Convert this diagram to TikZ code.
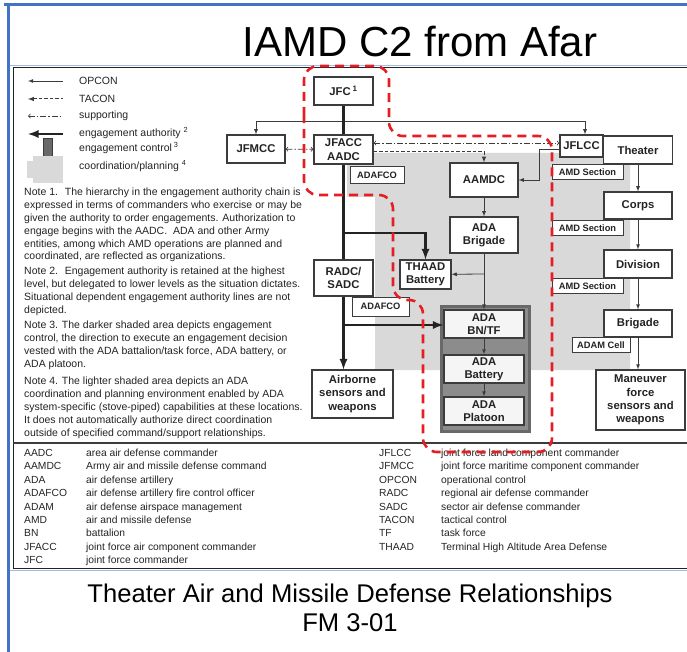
\documentclass[tikz,border=0pt]{standalone}
\usepackage{fontspec}
\setmainfont{Liberation Sans}
\usetikzlibrary{arrows}

\definecolor{slideblue}{RGB}{68,114,196}
\definecolor{paleblue}{RGB}{165,188,226}
\definecolor{lightshade}{RGB}{217,217,217}
\definecolor{darkedge}{RGB}{105,105,105}
\definecolor{darkfill}{RGB}{140,140,140}
\definecolor{boxline}{RGB}{60,60,60}
\definecolor{ink}{RGB}{35,35,35}
\definecolor{penred}{RGB}{228,30,36}

\begin{document}
\begin{tikzpicture}[x=1pt, y=-1pt, >=latex]
    \tikzstyle{box} = [draw=boxline, line width=1.1pt, fill=white, align=center, inner sep=0pt, text=ink, font=\fontsize{11.3}{13.3}\selectfont\bfseries]
    \tikzstyle{inbox} = [box, fill=black!4, minimum width=80, minimum height=28]
    \tikzstyle{stack} = [box, minimum width=68, minimum height=28]
    \tikzstyle{tag} = [box, line width=0.9pt, font=\fontsize{9.3}{10}\selectfont\bfseries]
    \tikzstyle{txt} = [inner sep=0pt, text=ink, align=left, font=\fontsize{10.5}{12.8}\selectfont]
    \tikzstyle{op} = [line width=0.8pt, draw=boxline]
    \tikzstyle{tac} = [op, line width=1pt, dash pattern=on 3.5pt off 2pt]
    \tikzstyle{sup} = [op, dash pattern=on 6pt off 2pt on 1.5pt off 2pt, >=to]
    \tikzstyle{ea} = [line width=2.6pt, draw=ink]

    \useasboundingbox (0,0) rectangle (687,652);

    % slide frame and title
    \draw[slideblue, line width=3pt] (4,5) -- (687,5);
    \draw[slideblue, line width=3pt] (8,3.5) -- (8,652);
    \draw[paleblue, line width=1pt] (9.5,66) -- (687,66);
    \node (title) [font=\fontsize{42}{42}\selectfont] at (420,42) {IAMD C2 from Afar};

    % figure frame
    \draw[ink, line width=1pt] (690,68) -- (13,68) -- (13,568) -- (690,568);
    \draw[paleblue, line width=1pt] (9.5,570) -- (687,570);
    \draw[boxline, line width=1.6pt] (13,443) -- (687,443);

    % shaded areas
    \fill[lightshade] (373,153) -- (630,153) -- (630,370) -- (375,370) -- (375,197)
        -- (347,197) -- (347,164) -- (373,164) -- cycle;
    \draw[darkedge, fill=darkfill, line width=3pt] (441.5,306.5) rectangle (529.5,431.5);

    % legend
    \draw[op, <-] (28,81) -- (63,81);
    \draw[tac, <-] (28,99) -- (63,99);
    \draw[sup, <-] (28,116) -- (63,116);
    \draw[ea, <-] (28,134) -- (63,134);
    \draw[boxline, fill=darkedge, line width=0.6pt] (43,138) rectangle (52,157);
    \fill[lightshade] (33,156) rectangle (63,183);
    \fill[lightshade] (27,161) rectangle (33,178);
    \node (l1) [txt, anchor=west] at (79,81) {OPCON};
    \node (l2) [txt, anchor=west] at (79,99) {TACON};
    \node (l3) [txt, anchor=west] at (79,116) {supporting};
    \node (l4) [txt, anchor=west] at (79,133) {engagement authority \textsuperscript{2}};
    \node (l5) [txt, anchor=west] at (79,148) {engagement control\,\textsuperscript{3}};
    \node (l6) [txt, anchor=west] at (79,166) {coordination/planning \textsuperscript{4}};

    % notes
    \node (n1) [txt, anchor=north west] at (24,188) {Note 1.~ The hierarchy in the engagement authority chain is\\
        expressed in terms of commanders who exercise or may be\\
        given the authority to order engagements. Authorization to\\
        engage begins with the AADC.~ ADA and other Army\\
        entities, among which AMD operations are planned and\\
        coordinated, are reflected as organizations.};
    \node (n2) [txt, anchor=north west] at (24,267) {Note 2.~ Engagement authority is retained at the highest\\
        level, but delegated to lower levels as the situation dictates.\\
        Situational dependent engagement authority lines are not\\
        depicted.};
    \node (n3) [txt, anchor=north west] at (24,321) {Note 3. The darker shaded area depicts engagement\\
        control, the direction to execute an engagement decision\\
        vested with the ADA battalion/task force, ADA battery, or\\
        ADA platoon.};
    \node (n4) [txt, anchor=north west] at (24,377) {Note 4. The lighter shaded area depicts an ADA\\
        coordination and planning environment enabled by ADA\\
        system-specific (stove-piped) capabilities at these locations.\\
        It does not automatically authorize direct coordination\\
        outside of specified command/support relationships.};

    % command boxes
    \node (jfc) [box, minimum width=59, minimum height=28] at (343.5, 91) {JFC\,\textsuperscript{1}};
    \node (jfmcc) [box, minimum width=58, minimum height=28] at (256, 149) {JFMCC};
    \node (jfacc) [box, minimum width=59, minimum height=29] at (343.5, 149.5) {JFACC\\AADC};
    \node (adafco) [tag, minimum width=54, minimum height=17] at (377, 175) {ADAFCO};
    \node (jflcc) [box, minimum width=43, minimum height=22] at (581.5, 146) {JFLCC};
    \node (aamdc) [box, minimum width=68, minimum height=34] at (484, 180) {AAMDC};
    \node (brig) [box, minimum width=68, minimum height=36] at (484, 235) {ADA\\Brigade};
    \node (thaad) [box, minimum width=51, minimum height=29] at (425.5, 274.5) {THAAD\\Battery};
    \node (radc) [box, minimum width=59, minimum height=36] at (343.5, 278) {RADC/\\SADC};
    \node (adafcob) [tag, minimum width=57, minimum height=19] at (380.5, 306.5) {ADAFCO};
    \node (air) [box, minimum width=81, minimum height=48] at (352.5, 394) {Airborne\\sensors and\\weapons};
    \node (bn) [inbox] at (484, 324) {ADA\\BN/TF};
    \node (bty) [inbox] at (484, 369) {ADA\\Battery};
    \node (plt) [inbox] at (484, 411) {ADA\\Platoon};

    % land chain
    \node (theater) [stack, minimum width=69] at (638, 150) {Theater};
    \node (amda) [tag, minimum width=71, minimum height=15] at (587.5, 172) {AMD Section};
    \node (corps) [stack, minimum height=27] at (638, 205.5) {Corps};
    \node (amdb) [tag, minimum width=71, minimum height=15] at (587.5, 228) {AMD Section};
    \node (div) [stack] at (638, 264) {Division};
    \node (amdc) [tag, minimum width=71, minimum height=15] at (587.5, 286) {AMD Section};
    \node (brigade) [stack, minimum height=27] at (638, 323.5) {Brigade};
    \node (adam) [tag, minimum width=58, minimum height=15] at (601, 345) {ADAM Cell};
    \node (man) [box, minimum width=89, minimum height=60] at (640.5, 400) {Maneuver\\force\\sensors and\\weapons};

    % connectors
    \coordinate (opc) at (343.5, 121);
    \coordinate (ta) at (343.5, 233);
    \coordinate (tb) at (343.5, 325);
    \coordinate (tc) at (484, 274);
    \draw [op, ->] (opc) -| (jfmcc.north);
    \draw [op, ->] (opc) -| ([xshift=3.5pt]jflcc.north);
    \draw [sup, <->] (jfmcc) -- (jfacc);
    \draw [sup, <->] ([yshift=6.5pt]jfacc.east) -- ([yshift=3pt]jflcc.west);
    \draw [tac, ->] ([yshift=-2.5pt]jfacc.east) -| (aamdc.north);
    \draw [op, ->] ([yshift=-3pt]jflcc.west) -- ++(-20,0) |- (aamdc.east);
    \draw [op, ->] (aamdc) -- (brig);
    \draw [op, ->] (brig) -- (bn);
    \draw [op, ->] (tc) -- (thaad);
    \draw [op, ->] (bn) -- (bty);
    \draw [op, ->] (bty) -- (plt);
    \draw [ea] (jfc) -- (jfacc);
    \draw [ea] (jfacc) -- (radc);
    \draw [ea, ->] (radc) -- (radc |- air.north);
    \draw [ea, ->] (ta) -| (thaad.north);
    \draw [ea, ->] (tb) -- (bn.west |- tb);
    \draw [op, ->] (theater) -- (corps);
    \draw [op, ->] (corps) -- (div);
    \draw [op, ->] (div) -- (brigade);
    \draw [op, ->] (brigade) -- (brigade |- man.north);

    % abbreviations
    \node (ab1) [txt, anchor=north west, font=\fontsize{10.3}{13.4}\selectfont] at (24,447) {%
        \begin{tabular}{@{}p{62pt}@{}l@{}}
        AADC & area air defense commander\\
        AAMDC & Army air and missile defense command\\
        ADA & air defense artillery\\
        ADAFCO & air defense artillery fire control officer\\
        ADAM & air defense airspace management\\
        AMD & air and missile defense\\
        BN & battalion\\
        JFACC & joint force air component commander\\
        JFC & joint force commander
        \end{tabular}};
    \node (ab2) [txt, anchor=north west, font=\fontsize{10.3}{13.4}\selectfont] at (379,447) {%
        \begin{tabular}{@{}p{62pt}@{}l@{}}
        JFLCC & joint force land component commander\\
        JFMCC & joint force maritime component commander\\
        OPCON & operational control\\
        RADC & regional air defense commander\\
        SADC & sector air defense commander\\
        TACON & tactical control\\
        TF & task force\\
        THAAD & Terminal High Altitude Area Defense
        \end{tabular}};

    % hand-drawn mark
    \draw [penred, line width=2.6pt, dash pattern=on 9pt off 6pt, rounded corners=14pt]
        (304,130) -- (304,66) -- (389,66) -- (389,136) -- (552,136) -- (552,452)
        -- (423,452) -- (423,300) -- (393,300) -- (393,195) -- (304,195) -- cycle;

    % caption
    \node (cap) [align=center, font=\fontsize{25.6}{29}\selectfont] at (350,608) {Theater Air and Missile Defense Relationships\\FM 3-01};
\end{tikzpicture}
\end{document}
